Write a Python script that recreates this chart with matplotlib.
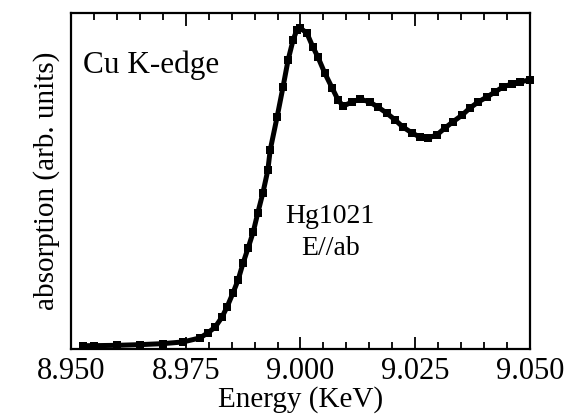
import matplotlib
matplotlib.use("Agg")
import matplotlib.pyplot as plt
import matplotlib.ticker as ticker

# ── Cu K-edge XANES, Hg1021, E//ab ──
energy = [8.9526, 8.9550, 8.9600, 8.9650, 8.9700, 8.9744, 8.9781, 8.9798,
          8.9814, 8.9829, 8.9840, 8.9853, 8.9864, 8.9875, 8.9886, 8.9897,
          8.9907, 8.9918, 8.9929, 8.9934, 8.9949, 8.9962, 8.9973, 8.9984,
          8.9992, 9.0000, 9.0014, 9.0027, 9.0038, 9.0053, 9.0069, 9.0082,
          9.0093, 9.0112, 9.0130, 9.0151, 9.0169, 9.0188, 9.0206, 9.0223,
          9.0243, 9.0260, 9.0278, 9.0297, 9.0315, 9.0332, 9.0352, 9.0369,
          9.0387, 9.0406, 9.0424, 9.0441, 9.0461, 9.0478, 9.0500]
absorption = [0.010, 0.010, 0.011, 0.013, 0.016, 0.021, 0.033, 0.048,
              0.065, 0.095, 0.125, 0.167, 0.205, 0.256, 0.301, 0.348,
              0.405, 0.464, 0.533, 0.592, 0.690, 0.780, 0.860, 0.920,
              0.949, 0.955, 0.940, 0.899, 0.869, 0.821, 0.777, 0.741,
              0.723, 0.735, 0.744, 0.735, 0.720, 0.702, 0.682, 0.661,
              0.643, 0.631, 0.628, 0.637, 0.658, 0.676, 0.696, 0.717,
              0.735, 0.750, 0.765, 0.780, 0.789, 0.795, 0.801]

xticks = [8.950, 8.975, 9.000, 9.025, 9.050]
xtick_labels = ["8.950", "8.975", "9.000", "9.025", "9.050"]

plt.rcParams["font.family"] = ["Liberation Serif", "DejaVu Serif"]

fig = plt.figure(figsize=(5.68, 4.2), dpi=100)
ax = fig.add_axes([0.125, 0.169, 0.808, 0.800])

ax.plot(energy, absorption, color="black", linewidth=3.6,
        marker="s", markersize=6, markeredgewidth=0, clip_on=False)

ax.set_xlim(8.950, 9.050)
ax.set_ylim(0, 1.0)
ax.set_xticks(xticks)
ax.set_xticklabels(xtick_labels)
ax.xaxis.set_minor_locator(ticker.MultipleLocator(0.005))
ax.set_yticks([])
ax.tick_params(axis="x", which="both", direction="in", top=True, bottom=True,
               labelsize=22, pad=6)
ax.tick_params(axis="x", which="major", length=9, width=1.3)
ax.tick_params(axis="x", which="minor", length=5, width=1.3)
for s in ax.spines.values():
    s.set_linewidth(1.6)

ax.set_xlabel("Energy (KeV)", fontsize=21, labelpad=0)
ax.set_ylabel("absorption (arb. units)", fontsize=21, labelpad=8)

ax.text(0.027, 0.845, "Cu K-edge", transform=ax.transAxes,
        ha="left", va="center", fontsize=22.5)
ax.text(0.564, 0.393, "Hg1021", transform=ax.transAxes,
        ha="center", va="center", fontsize=20)
ax.text(0.566, 0.300, "E//ab", transform=ax.transAxes,
        ha="center", va="center", fontsize=20)

fig.savefig("out.png", dpi=100)
plt.close(fig)
